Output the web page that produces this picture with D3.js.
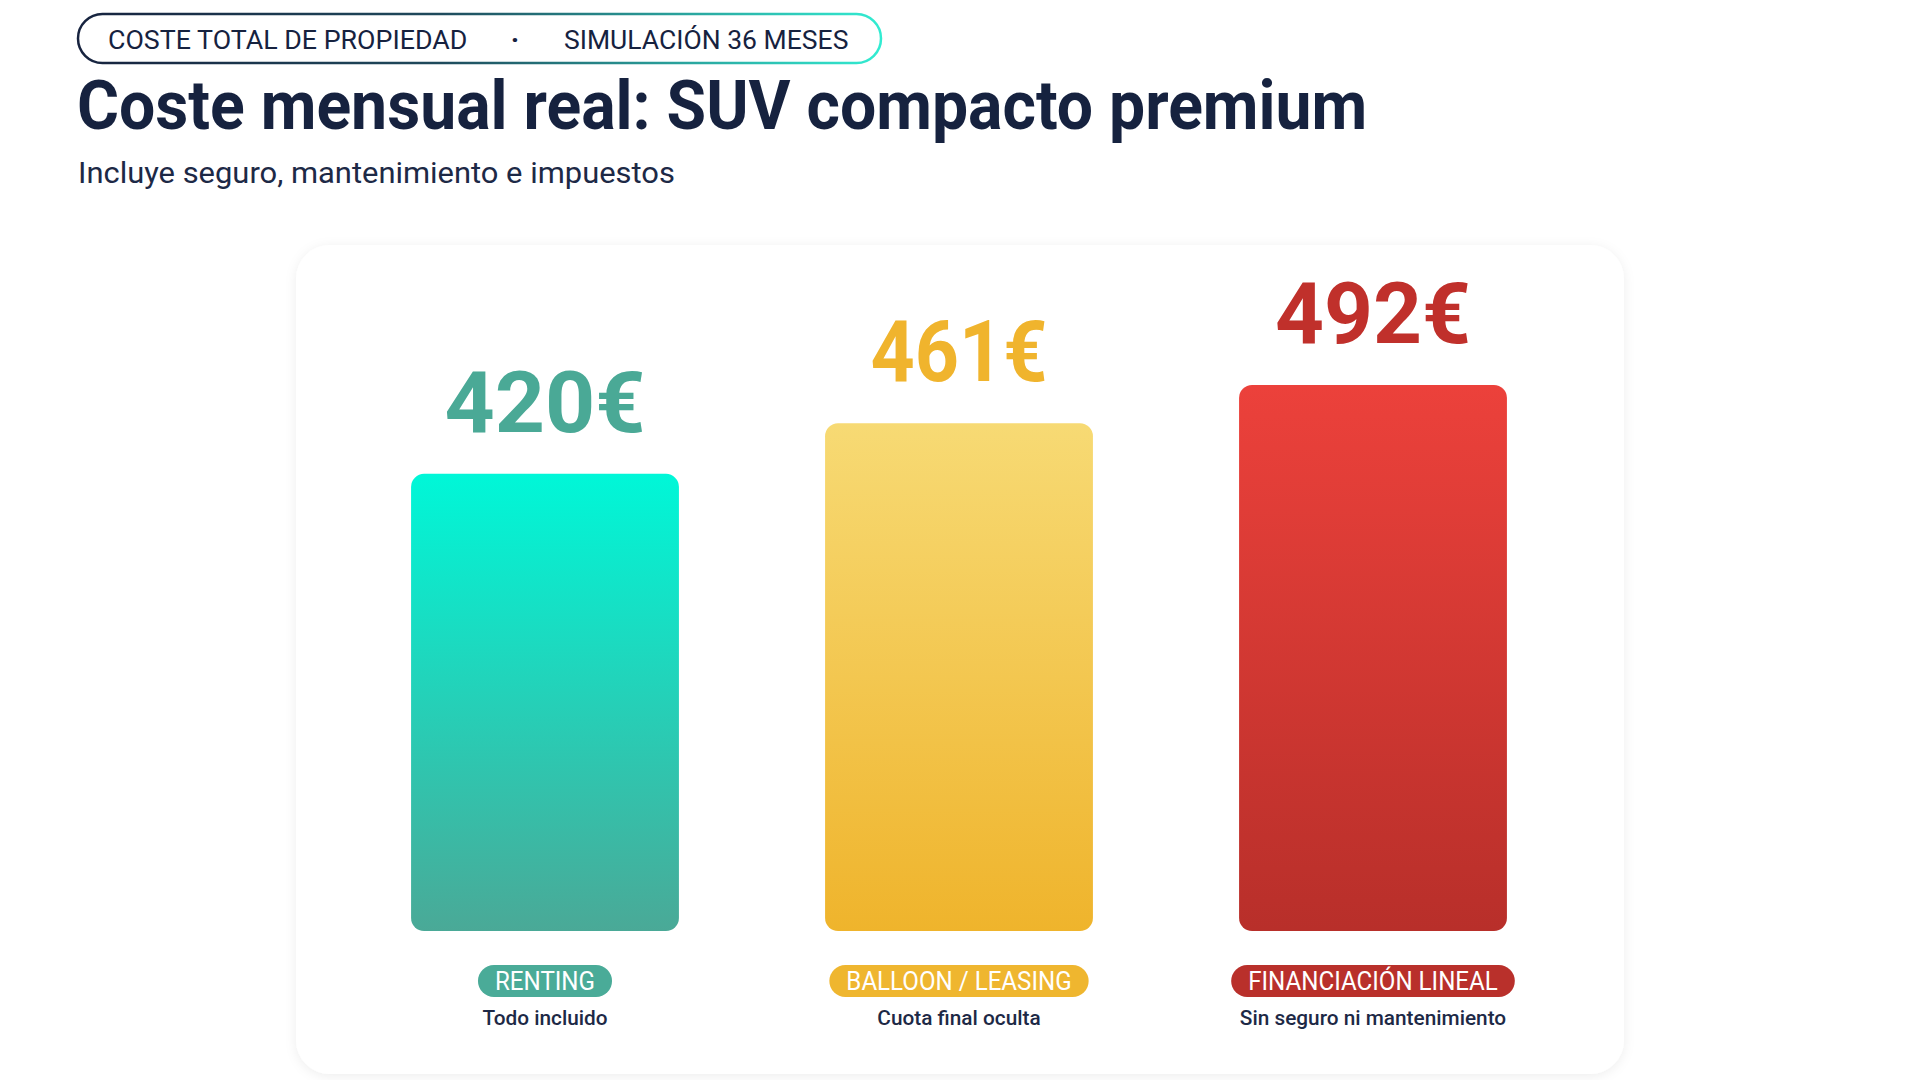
<!DOCTYPE html>
<html>
<head>
<meta charset="utf-8">
<script src="https://cdn.jsdelivr.net/npm/d3@7"></script>
<style>
  html, body { margin: 0; padding: 0; background: #ffffff; }
  svg { display: block; font-family: Roboto, "Noto Sans", sans-serif; }
</style>
</head>
<body>
<div id="chart"></div>
<script>
// data
const categories = ["RENTING", "BALLOON / LEASING", "FINANCIACIÓN LINEAL"];
const values = [420, 461, 492];
const notes = ["Todo incluido", "Cuota final oculta", "Sin seguro ni mantenimiento"];
const yDomain = [50, 500];

const kicker = ["COSTE TOTAL DE PROPIEDAD", "SIMULACIÓN 36 MESES"];
const title = "Coste mensual real: SUV compacto premium";
const subtitle = "Incluye seguro, mantenimiento e impuestos";

// styles
const palette = [
  { top: "#00f7d8", bottom: "#4aa997", label: "#4aa996", pill: "#4aab98" },
  { top: "#f7da74", bottom: "#efb42c", label: "#f0b42d", pill: "#efb62f" },
  { top: "#ec413b", bottom: "#b82f2a", label: "#c0302b", pill: "#b9302b" },
];
const valueWidths = [201, 177, 196]; // the display face sets "1" narrow
const navy = "#16223f";

const width = 1920, height = 1080;
const svg = d3.select("#chart").append("svg")
  .attr("width", width)
  .attr("height", height);

const defs = svg.append("defs");

// stretch/squeeze Roboto so it takes the room of the original face
function condense(sel, k) {
  sel.each(function () {
    const w = this.getComputedTextLength();
    d3.select(this).attr("textLength", w * k).attr("lengthAdjust", "spacingAndGlyphs");
  });
  return sel;
}

// header pill
const pillGrad = defs.append("linearGradient").attr("id", "pill-stroke")
  .attr("x1", "0%").attr("x2", "100%");
pillGrad.append("stop").attr("offset", "0%").attr("stop-color", "#17233f");
pillGrad.append("stop").attr("offset", "45%").attr("stop-color", "#1f4a5c");
pillGrad.append("stop").attr("offset", "100%").attr("stop-color", "#32ecd2");

svg.append("rect")
  .attr("x", 78).attr("y", 14)
  .attr("width", 803).attr("height", 49)
  .attr("rx", 24.5)
  .attr("fill", "#fff")
  .attr("stroke", "url(#pill-stroke)")
  .attr("stroke-width", 2.5);

condense(svg.append("text")
  .attr("x", 108).attr("y", 49)
  .attr("font-size", 26).attr("font-weight", 400)
  .attr("fill", navy)
  .text(kicker[0]), 1.03);

svg.append("text")
  .attr("x", 515).attr("y", 49)
  .attr("text-anchor", "middle")
  .attr("font-size", 28).attr("font-weight", 700)
  .attr("fill", navy)
  .text("·");

condense(svg.append("text")
  .attr("x", 564).attr("y", 49)
  .attr("font-size", 26).attr("font-weight", 400)
  .attr("fill", navy)
  .text(kicker[1]), 1.02);

// title + subtitle
condense(svg.append("text")
  .attr("x", 77).attr("y", 129)
  .attr("font-size", 68).attr("font-weight", 700)
  .attr("fill", navy)
  .text(title), 0.945);

condense(svg.append("text")
  .attr("x", 78).attr("y", 183)
  .attr("font-size", 30).attr("font-weight", 400)
  .attr("fill", "#1d2946")
  .text(subtitle), 1.03);

// card
const shadow = defs.append("filter").attr("id", "card-shadow")
  .attr("x", "-10%").attr("y", "-10%").attr("width", "120%").attr("height", "120%");
shadow.append("feDropShadow")
  .attr("dx", 0).attr("dy", 2)
  .attr("stdDeviation", 6)
  .attr("flood-color", "#000").attr("flood-opacity", 0.07);

svg.append("rect")
  .attr("x", 296).attr("y", 245)
  .attr("width", 1328).attr("height", 829)
  .attr("rx", 34)
  .attr("fill", "#fff")
  .attr("filter", "url(#card-shadow)");

// scales
const barBottom = 931;
const x = d3.scaleBand()
  .domain(categories)
  .range([338, 1580])
  .paddingInner(0.353)
  .paddingOuter(0.1765);

const y = d3.scaleLinear()
  .domain(yDomain)
  .range([barBottom, 375]);

const rows = categories.map((c, i) => ({ cat: c, value: values[i], note: notes[i], col: palette[i], i }));

rows.forEach(d => {
  const g = defs.append("linearGradient").attr("id", "bar-grad-" + d.i)
    .attr("x1", 0).attr("x2", 0).attr("y1", 0).attr("y2", 1);
  g.append("stop").attr("offset", "0%").attr("stop-color", d.col.top);
  g.append("stop").attr("offset", "100%").attr("stop-color", d.col.bottom);
});

const bars = svg.append("g").selectAll("g.bar")
  .data(rows)
  .join("g")
  .attr("class", "bar");

bars.append("rect")
  .attr("x", d => x(d.cat))
  .attr("y", d => y(d.value))
  .attr("width", x.bandwidth())
  .attr("height", d => barBottom - y(d.value))
  .attr("rx", 13)
  .attr("fill", d => `url(#bar-grad-${d.i})`);

bars.append("text")
  .attr("x", d => x(d.cat) + x.bandwidth() / 2)
  .attr("y", d => y(d.value) - 42)
  .attr("text-anchor", "middle")
  .attr("font-size", 86).attr("font-weight", 700)
  .attr("fill", d => d.col.label)
  .attr("textLength", d => valueWidths[d.i])
  .attr("lengthAdjust", "spacingAndGlyphs")
  .text(d => d.value + "€");

// category pills
const pillY = 981;
const pills = bars.append("rect");

const catText = bars.append("text")
  .attr("x", d => x(d.cat) + x.bandwidth() / 2)
  .attr("y", pillY + 9)
  .attr("text-anchor", "middle")
  .attr("font-size", 25).attr("font-weight", 400)
  .attr("fill", "#fff")
  .text(d => d.cat);
condense(catText, 0.965);

pills.each(function (d) {
  const w = +catText.nodes()[d.i].getAttribute("textLength") + 34;
  d3.select(this)
    .attr("x", x(d.cat) + x.bandwidth() / 2 - w / 2)
    .attr("y", pillY - 16)
    .attr("width", w)
    .attr("height", 32)
    .attr("rx", 16)
    .attr("fill", d.col.pill);
});

const noteText = bars.append("text")
  .attr("x", d => x(d.cat) + x.bandwidth() / 2)
  .attr("y", 1025)
  .attr("text-anchor", "middle")
  .attr("font-size", 21).attr("font-weight", 500)
  .attr("fill", "#1d2946")
  .text(d => d.note);
condense(noteText, 0.99);
</script>
</body>
</html>
